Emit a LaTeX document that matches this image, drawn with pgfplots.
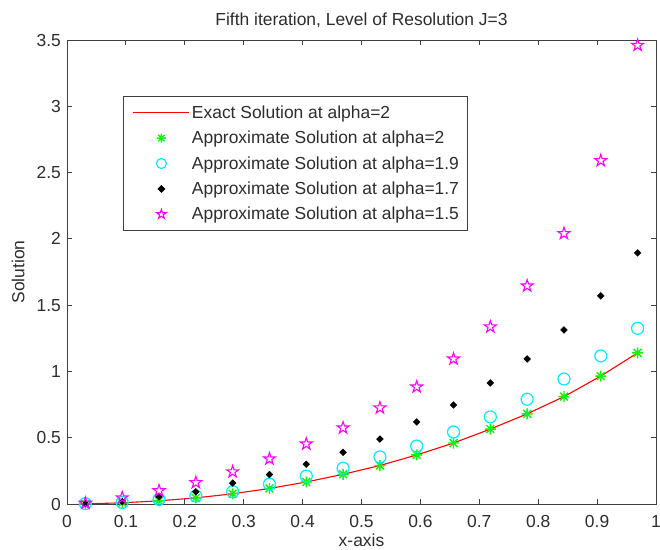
\documentclass[border=0pt]{standalone}
\usepackage{fontspec}
\setmainfont{Liberation Sans}
\usepackage{pgfplots}
\pgfplotsset{compat=1.18}
\pgfdeclareplotmark{mstar}{%
  \pgfpathmoveto{\pgfqpoint{-\pgfplotmarksize}{0pt}}\pgfpathlineto{\pgfqpoint{\pgfplotmarksize}{0pt}}%
  \pgfpathmoveto{\pgfqpoint{0pt}{-\pgfplotmarksize}}\pgfpathlineto{\pgfqpoint{0pt}{\pgfplotmarksize}}%
  \pgfpathmoveto{\pgfqpoint{-0.707\pgfplotmarksize}{-0.707\pgfplotmarksize}}\pgfpathlineto{\pgfqpoint{0.707\pgfplotmarksize}{0.707\pgfplotmarksize}}%
  \pgfpathmoveto{\pgfqpoint{-0.707\pgfplotmarksize}{0.707\pgfplotmarksize}}\pgfpathlineto{\pgfqpoint{0.707\pgfplotmarksize}{-0.707\pgfplotmarksize}}%
  \pgfusepathqstroke}
\pgfdeclareplotmark{pentagram}{%
  \pgfpathmoveto{\pgfqpointpolar{90}{\pgfplotmarksize}}%
  \pgfpathlineto{\pgfqpointpolar{126}{0.382\pgfplotmarksize}}%
  \pgfpathlineto{\pgfqpointpolar{162}{\pgfplotmarksize}}%
  \pgfpathlineto{\pgfqpointpolar{198}{0.382\pgfplotmarksize}}%
  \pgfpathlineto{\pgfqpointpolar{234}{\pgfplotmarksize}}%
  \pgfpathlineto{\pgfqpointpolar{270}{0.382\pgfplotmarksize}}%
  \pgfpathlineto{\pgfqpointpolar{306}{\pgfplotmarksize}}%
  \pgfpathlineto{\pgfqpointpolar{342}{0.382\pgfplotmarksize}}%
  \pgfpathlineto{\pgfqpointpolar{18}{\pgfplotmarksize}}%
  \pgfpathlineto{\pgfqpointpolar{54}{0.382\pgfplotmarksize}}%
  \pgfpathclose\pgfusepathqstroke}
\definecolor{axgray}{RGB}{64,64,64}
\definecolor{txtgray}{RGB}{45,45,45}
\definecolor{mgreen}{RGB}{20,240,20}
\definecolor{mcyan}{RGB}{0,235,255}
\definecolor{mmag}{RGB}{255,0,255}
\begin{document}
\begin{tikzpicture}
\useasboundingbox (0,0) rectangle (660bp,550bp);
\begin{axis}[
  at={(67bp,46bp)}, anchor=south west,
  scale only axis, width=589bp, height=464bp,
  xmin=0, xmax=1, ymin=0, ymax=3.5,
  xtick={0,0.1,...,1.0001}, ytick={0,0.5,...,3.5},
  xticklabels={0,0.1,0.2,0.3,0.4,0.5,0.6,0.7,0.8,0.9,1},
  yticklabels={0,0.5,1,1.5,2,2.5,3,3.5},
  tick align=inside, major tick length=5bp,
  xtick pos=both, ytick pos=both,
  axis line style={axgray, line width=0.9bp},
  tick style={axgray, line width=0.9bp},
  /pgf/number format/assume math mode=true,
  ticklabel style={font=\fontsize{17.5}{17.5}\selectfont, text=txtgray},
  xticklabel style={anchor=base, yshift=-23bp},
  yticklabel style={anchor=east, inner sep=0pt, xshift=-6bp},
  title={Fifth iteration, Level of Resolution J=3},
  title style={at={(axis description cs:0.5,1.018)}, anchor=base, font=\fontsize{17.5}{17.5}\selectfont, text=txtgray},
  xlabel={x-axis},
  xlabel style={at={(axis description cs:0.5,-0.091)}, anchor=base, font=\fontsize{17.5}{17.5}\selectfont, text=txtgray},
  ylabel={Solution},
  ylabel style={at={(axis description cs:-0.083,0.5)}, anchor=center, font=\fontsize{17.5}{17.5}\selectfont, text=txtgray},
  legend style={at={(axis cs:0.0951,3.0797)}, anchor=north west, draw=axgray, line width=0.8bp,
    font=\fontsize{17.5}{20}\selectfont, text=txtgray, inner xsep=6bp, inner ysep=7.5bp, row sep=7.3bp,
    nodes={inner xsep=2bp}},
  legend cell align=left,
  legend image code/.code={\path[draw=none] (0bp,0bp) -- (60bp,0bp); \draw[mark repeat=2,mark phase=2,#1] plot coordinates {(4bp,0bp) (32bp,0bp) (60bp,0bp)};},
]
\addplot[draw=red, line width=1.1bp,
  legend image code/.code={\path[draw=none] (0bp,0bp) -- (60bp,0bp); \draw[draw=red, line width=1.1bp] (4bp,0bp) -- (60bp,0bp);}] coordinates {
(0.03125,0.001) (0.09375,0.009) (0.15625,0.024) (0.21875,0.046) (0.28125,0.077) (0.34375,0.117)
(0.40625,0.166) (0.46875,0.224) (0.53125,0.29) (0.59375,0.37) (0.65625,0.46) (0.71875,0.565)
(0.78125,0.68) (0.84375,0.81) (0.90625,0.965) (0.96875,1.14)};
\addlegendentry{Exact Solution at alpha=2}
\addplot[only marks, mark=mstar, mark size=5.5bp, color=mgreen, mark options={line width=1.4bp}, legend image post style={mark size=4.5bp}] coordinates {
(0.03125,0.001) (0.09375,0.009) (0.15625,0.024) (0.21875,0.046) (0.28125,0.077) (0.34375,0.117)
(0.40625,0.166) (0.46875,0.224) (0.53125,0.29) (0.59375,0.37) (0.65625,0.46) (0.71875,0.565)
(0.78125,0.68) (0.84375,0.81) (0.90625,0.965) (0.96875,1.14)};
\addlegendentry{Approximate Solution at alpha=2}
\addplot[only marks, mark=o, mark size=6bp, color=mcyan, mark options={line width=1.2bp}, legend image post style={mark size=5bp}] coordinates {
(0.03125,0.003) (0.09375,0.012) (0.15625,0.035) (0.21875,0.06) (0.28125,0.093) (0.34375,0.15)
(0.40625,0.21) (0.46875,0.27) (0.53125,0.355) (0.59375,0.437) (0.65625,0.543) (0.71875,0.657)
(0.78125,0.79) (0.84375,0.943) (0.90625,1.117) (0.96875,1.325)};
\addlegendentry{Approximate Solution at alpha=1.9}
\addplot[only marks, mark=square*, mark size=2.4bp, black, mark options={rotate=45}] coordinates {
(0.03125,0.003) (0.09375,0.017) (0.15625,0.055) (0.21875,0.092) (0.28125,0.158) (0.34375,0.222)
(0.40625,0.30) (0.46875,0.39) (0.53125,0.49) (0.59375,0.619) (0.65625,0.747) (0.71875,0.913)
(0.78125,1.094) (0.84375,1.313) (0.90625,1.57) (0.96875,1.894)};
\addlegendentry{Approximate Solution at alpha=1.7}
\addplot[only marks, mark=pentagram, mark size=6.3bp, color=mmag, mark options={line width=1.1bp}, legend image post style={mark size=5bp}] coordinates {
(0.03125,0.006) (0.09375,0.047) (0.15625,0.10) (0.21875,0.162) (0.28125,0.243) (0.34375,0.34)
(0.40625,0.453) (0.46875,0.574) (0.53125,0.725) (0.59375,0.883) (0.65625,1.094) (0.71875,1.336)
(0.78125,1.645) (0.84375,2.04) (0.90625,2.59) (0.96875,3.46)};
\addlegendentry{Approximate Solution at alpha=1.5}
\end{axis}
\end{tikzpicture}
\end{document}
